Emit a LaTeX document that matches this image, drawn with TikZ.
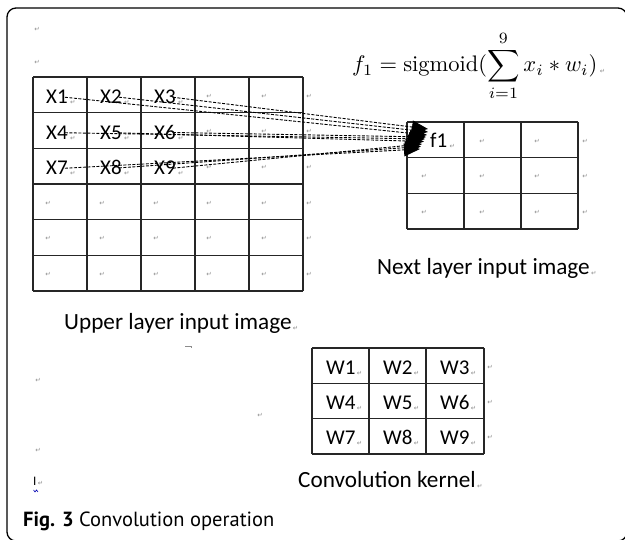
\documentclass[tikz,border=0pt]{standalone}
\usepackage{graphicx}
\usepackage{fontspec}
\setmainfont{Carlito}
\newfontfamily\dejavu{DejaVu Sans}
\newfontfamily\capfont{PT Sans}
\newfontfamily\lmr{Latin Modern Roman}
\usetikzlibrary{arrows.meta}
\begin{document}
\begin{tikzpicture}[x=1pt,y=-1pt,
  gridline/.style={line width=1.1pt, draw=black!85},
  celltext/.style={font=\fontsize{21}{21}\selectfont, anchor=base west, inner sep=0pt},
  labeltext/.style={font=\fontsize{23.2}{25}\selectfont, anchor=base west, inner sep=0pt},
  pm/.style={font=\dejavu\fontsize{6.5}{7}\selectfont, text=black!45, inner sep=0pt},
  feed/.style={dash pattern=on 3pt off 1.5pt, line width=0.9pt, draw=black,
    -{Triangle[length=16pt,width=13pt,fill=black]}}]
\useasboundingbox (0,0) rectangle (625,540);
% outer frame
\draw[line width=1.3pt, rounded corners=9pt] (7,8) rectangle (627,541);

% ---------- upper layer grid ----------
\foreach \x in {33,87,141,195,249,303} \draw[gridline] (\x,77) -- (\x,291);
\foreach \y in {77,112.7,148.3,184,219.7,255.3,291} \draw[gridline] (33,\y) -- (303,\y);
\foreach \r/\b in {1/104,2/139.5,3/175}
  \foreach \c in {1,2,3} {
    \pgfmathtruncatemacro{\n}{3*(\r-1)+\c}
    \node[celltext] (X\n) at ({33+54*(\c-1)+13},\b) {X\n};
    \node[pm, anchor=base west] (mx\n) at ([xshift=2pt,yshift=-1pt]X\n.base east) {↵};
  }
\foreach \r/\yc in {1/96,2/131,3/167}
  \foreach \c/\xc in {4/209,5/264} \node[pm] (mu\r\c) at (\xc,\yc) {↵};
\foreach \r/\yc in {4/203,5/238,6/274}
  \foreach \c/\xc in {1/48,2/102,3/156,4/209,5/264} \node[pm] (mu\r\c) at (\xc,\yc) {↵};
\foreach \r/\yc in {1/96,2/131,3/167,4/203,5/238,6/274} \node[pm] (mr\r) at (309,\yc) {↵};

% ---------- next layer grid ----------
\foreach \x in {407,464,521,578} \draw[gridline] (\x,122) -- (\x,229);
\foreach \y in {122,157.7,193.3,229} \draw[gridline] (407,\y) -- (578,\y);
\node[celltext] (f1) at (430,148) {f1};
\node[pm, anchor=base west] (mf1) at ([xshift=2pt,yshift=-1pt]f1.base east) {↵};
\foreach \r/\yc in {1/141,2/176,3/212} {
  \node[pm] (na\r) at (482,\yc) {↵};
  \node[pm] (nb\r) at (537,\yc) {↵};
  \node[pm] (nc\r) at (585,\yc) {↵};
}
\node[pm] (nd2) at (424,176) {↵};
\node[pm] (nd3) at (424,212) {↵};

% ---------- connectors ----------
\coordinate (t1) at (427,135);
\coordinate (t2) at (428,132);
\coordinate (t3) at (428,129);
\coordinate (t4) at (425,139);
\coordinate (t5) at (424,141.5);
\coordinate (t6) at (426,137);
\coordinate (t7) at (420,149);
\coordinate (t8) at (421,146.5);
\coordinate (t9) at (422,144);
\foreach \n in {1,...,9} \draw[feed] ([xshift=-3pt]X\n.east) -- (t\n);

% ---------- formula ----------
\node[anchor=base west, inner sep=0pt] (formula) at (352,72)
  {\scalebox{2.25}{$\displaystyle f_1=\mbox{\lmr sigmoid}(\sum_{i=1}^{9}x_i*w_i)$}};
\node[pm, anchor=base west] (mform) at ([xshift=2pt,yshift=-2pt]formula.base east) {↵};

% ---------- kernel ----------
\foreach \x in {312,369,426,484} \draw[gridline] (\x,348) -- (\x,454);
\foreach \y in {348,383.3,418.7,454} \draw[gridline] (312,\y) -- (484,\y);
\foreach \r/\b in {1/375,2/410,3/445}
  \foreach \c in {1,2,3} {
    \pgfmathtruncatemacro{\n}{3*(\r-1)+\c}
    \node[celltext] (W\n) at ({312+57*(\c-1)+14},\b) {W\n};
    \node[pm, anchor=base west] (mw\n) at ([xshift=1pt,yshift=-1pt]W\n.base east) {↵};
  }
\foreach \r/\yc in {1/367,2/402,3/437} \node[pm] (mk\r) at (490,\yc) {↵};

% ---------- labels ----------
\node[labeltext] (next) at (377,275) {Next layer input image};
\node[pm, anchor=base west] (mnext) at ([xshift=1pt,yshift=-1pt]next.base east) {↵};
\node[labeltext] (upper) at (64,330) {Upper layer input image};
\node[pm, anchor=base west] (mupper) at ([xshift=1pt,yshift=-1pt]upper.base east) {↵};
\node[labeltext] (kern) at (298,488) {Convolution kernel};
\node[pm, anchor=base west] (mkern) at ([xshift=1pt,yshift=-1pt]kern.base east) {↵};

% ---------- stray marks ----------
\node[pm] (s1) at (37,29) {↵};
\node[pm] (s2) at (37,62) {↵};
\node[pm] (s3) at (38,380) {↵};
\node[pm] (s4) at (260,415) {↵};
\node[pm] (s5) at (38,450) {↵};
\node[anchor=base west, inner sep=0pt, font=\fontsize{13}{13}\selectfont] (cur) at (33,486) {I};
\node[pm, anchor=base west] (s6) at ([xshift=1pt]cur.base east) {↵};
\draw[blue!70!black, line width=0.6pt] (33.5,490) -- (35,492) -- (36.5,490) -- (38,492);
\draw[black!45, line width=0.6pt] (185,346) -- (191,346) -- (191,348);

% ---------- caption ----------
\node[anchor=base west, inner sep=0pt, font=\capfont\fontsize{20.5}{23}\selectfont] (cap) at (23,527)
  {\textbf{Fig. 3} Convolution operation};
\end{tikzpicture}
\end{document}
